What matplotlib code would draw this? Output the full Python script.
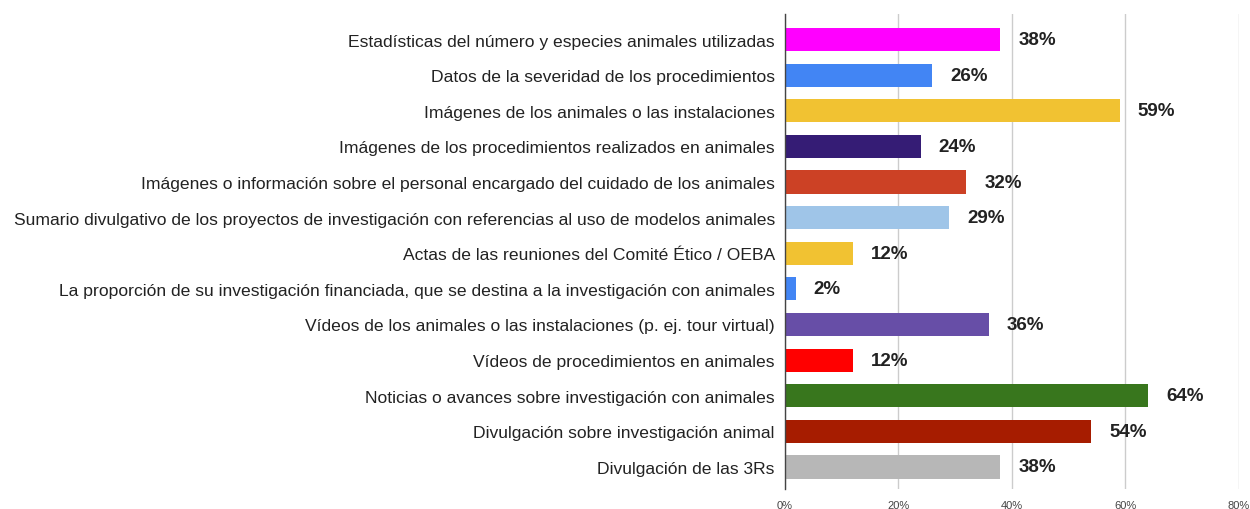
import matplotlib
matplotlib.use("Agg")
import matplotlib.pyplot as plt
from matplotlib.ticker import FuncFormatter

categories = [
    "Estadísticas del número y especies animales utilizadas",
    "Datos de la severidad de los procedimientos",
    "Imágenes de los animales o las instalaciones",
    "Imágenes de los procedimientos realizados en animales",
    "Imágenes o información sobre el personal encargado del cuidado de los animales",
    "Sumario divulgativo de los proyectos de investigación con referencias al uso de modelos animales",
    "Actas de las reuniones del Comité Ético / OEBA",
    "La proporción de su investigación financiada, que se destina a la investigación con animales",
    "Vídeos de los animales o las instalaciones (p. ej. tour virtual)",
    "Vídeos de procedimientos en animales",
    "Noticias o avances sobre investigación con animales",
    "Divulgación sobre investigación animal",
    "Divulgación de las 3Rs",
]
values = [38, 26, 59, 24, 32, 29, 12, 2, 36, 12, 64, 54, 38]
colors = ["#ff00ff", "#4285f4", "#f1c232", "#351c75", "#cc4125", "#9fc5e8",
          "#f1c232", "#4285f4", "#674ea7", "#ff0000", "#38761d", "#a61c00", "#b7b7b7"]
xticks = [0, 20, 40, 60, 80]

plt.rcParams['font.family'] = ['Liberation Sans', 'DejaVu Sans']

fig = plt.figure(figsize=(12.5, 5.1), dpi=100)
ax = fig.add_axes([0.6276, 0.0392, 0.9912 - 0.6276, 0.9706 - 0.0392])

y = list(range(len(categories)))
ax.barh(y, values, height=0.65, color=colors, zorder=3)
for yi, v in zip(y, values):
    ax.annotate(f"{v}%", (v, yi), xytext=(18, 0), textcoords="offset pixels",
                va="center", ha="left", fontsize=13.5, fontweight="bold", color="#222222")

ax.set_yticks(y)
ax.set_yticklabels(categories, fontsize=12.6, color="#222222")
ax.set_ylim(len(categories) - 1 + 0.62, -0.72)
ax.set_xlim(0, 80)
ax.set_xticks(xticks)
ax.xaxis.set_major_formatter(FuncFormatter(lambda v, p: f"{int(v)}%"))
ax.tick_params(axis="x", labelsize=8, colors="#444444", length=0, pad=8)
ax.tick_params(axis="y", length=0, pad=7)
ax.grid(axis="x", color="#cccccc", linewidth=1, zorder=0)
for s in ["top", "right", "bottom"]:
    ax.spines[s].set_visible(False)
ax.spines["left"].set_color("#444444")
ax.spines["left"].set_linewidth(1)
ax.spines["left"].set_zorder(4)

fig.savefig("out.png", dpi=100)
